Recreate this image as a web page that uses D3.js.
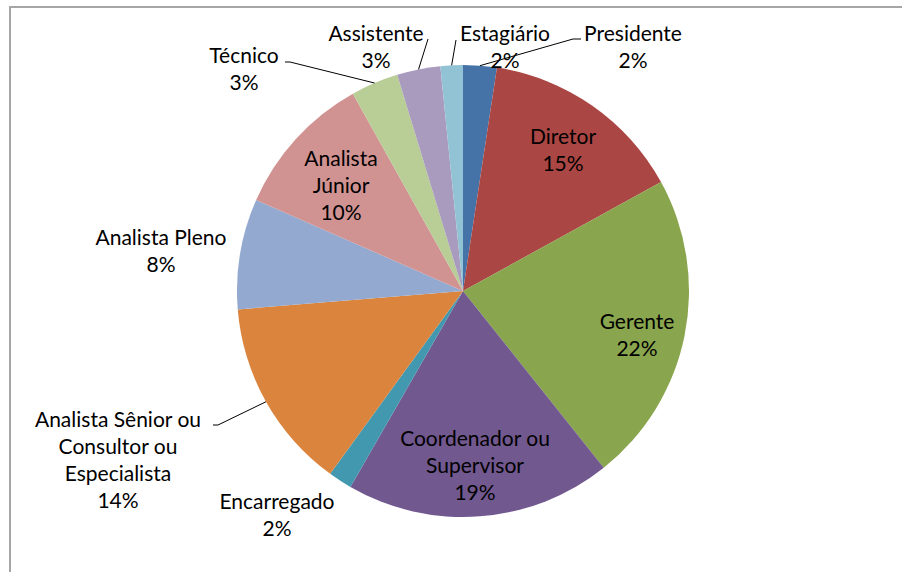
<!DOCTYPE html>
<html>
<head>
<meta charset="utf-8">
<script src="https://cdn.jsdelivr.net/npm/d3@7/dist/d3.min.js"></script>
<style>
  html, body { margin: 0; padding: 0; background: #fff; }
  svg { display: block; }
  text { font-family: Lato, "Noto Sans", sans-serif; font-size: 21px; fill: #000; }
</style>
</head>
<body>
<svg id="chart" width="902" height="572"></svg>
<script>
// ---- data ----
const categories = ["Presidente", "Diretor", "Gerente", "Coordenador ou Supervisor", "Encarregado",
  "Analista Sênior ou Consultor ou Especialista", "Analista Pleno", "Analista Júnior",
  "Técnico", "Assistente", "Estagiário"];
const values = [2.4, 14.6, 22.3, 19.0, 1.7, 13.7, 7.9, 10.3, 3.4, 3.1, 1.6];
const labelLines = [
  ["Presidente"], ["Diretor"], ["Gerente"], ["Coordenador ou", "Supervisor"], ["Encarregado"],
  ["Analista Sênior ou", "Consultor ou", "Especialista"], ["Analista Pleno"], ["Analista", "Júnior"],
  ["Técnico"], ["Assistente"], ["Estagiário"]
];

// ---- styles / layout ----
const colors = ["#4572A7", "#AA4643", "#89A54E", "#71588F", "#4198AF", "#DB843D",
  "#93A9CF", "#D19392", "#B9CD96", "#A99BBD", "#92C3D4"];
const cx = 463, cy = 291, R = 226, lineH = 27;
// label anchor: x centre, baseline of first line; leader: elbow points (null = no leader)
const labelLayout = [
  { x: 633, y: 41, leader: [[573, 39], [581, 39]] },
  { x: 563, y: 144 },
  { x: 637, y: 329 },
  { x: 475, y: 446 },
  { x: 277, y: 509 },
  { x: 118, y: 427, leader: [[218, 425], [213, 425]] },
  { x: 161, y: 245 },
  { x: 341, y: 166 },
  { x: 244, y: 63, leader: [[290, 62], [285, 62]] },
  { x: 376, y: 41, leader: [[428, 39]] },
  { x: 505, y: 41, leader: [[456, 40]] }
];

const svg = d3.select("#chart");

// frame
svg.append("rect").attr("x", 10).attr("y", 7).attr("width", 1000).attr("height", 1000)
  .attr("fill", "none").attr("stroke", "#a6a6a6").attr("stroke-width", 2);

const data = categories.map((c, i) => ({ name: c, value: values[i], i }));
const pie = d3.pie().value(d => d.value).sort(null).startAngle(0).endAngle(2 * Math.PI);
const arcs = pie(data);
const arc = d3.arc().innerRadius(0).outerRadius(R);
const edgeArc = d3.arc().innerRadius(R).outerRadius(R);

const g = svg.append("g").attr("transform", `translate(${cx},${cy})`);
g.selectAll("path.slice").data(arcs).join("path")
  .attr("class", "slice")
  .attr("d", arc)
  .attr("fill", d => colors[d.data.i]);

// leader lines
const lineGen = d3.line();
arcs.forEach(a => {
  const L = labelLayout[a.data.i];
  if (!L.leader) return;
  const [ex, ey] = edgeArc.centroid(a);
  const pts = [[ex + cx, ey + cy]].concat(L.leader);
  svg.append("path").attr("d", lineGen(pts)).attr("fill", "none")
    .attr("stroke", "#000").attr("stroke-width", 1);
});

// labels
const total = d3.sum(values);
arcs.forEach(a => {
  const i = a.data.i, L = labelLayout[i];
  const lines = labelLines[i].concat([Math.round(a.data.value / total * 100) + "%"]);
  const t = svg.append("text").attr("text-anchor", "middle");
  lines.forEach((s, k) => {
    t.append("tspan").attr("x", L.x).attr("y", L.y + k * lineH).text(s);
  });
});
</script>
</body>
</html>
